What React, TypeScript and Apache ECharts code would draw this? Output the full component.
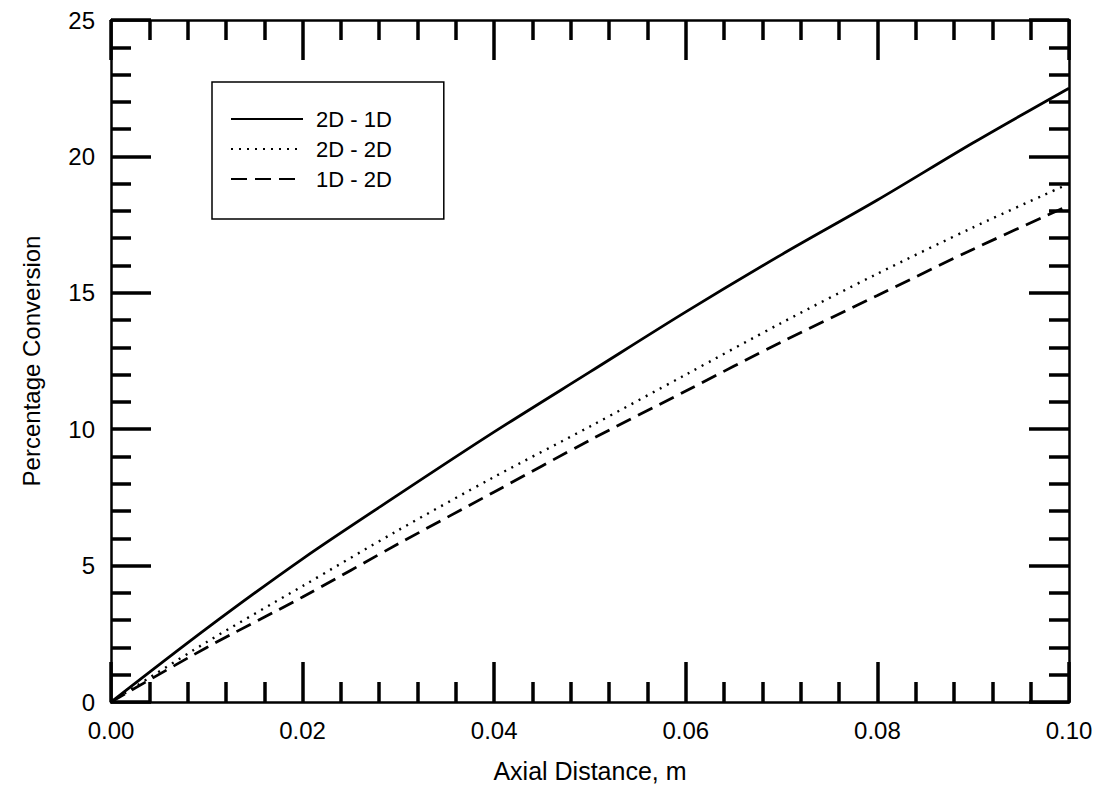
import React, { useEffect, useRef } from "react";
import * as echarts from "echarts";

const xValues = [0, 0.01, 0.02, 0.03, 0.04, 0.05, 0.06, 0.07, 0.08, 0.09, 0.1];
const solid2D1D = [0, 2.7, 5.25, 7.6, 9.9, 12.1, 14.3, 16.4, 18.4, 20.5, 22.5];
const dotted2D2D = [0, 2.2, 4.25, 6.3, 8.25, 10.1, 12.0, 13.9, 15.7, 17.4, 19.0];
const dashed1D2D = [0, 2.0, 3.85, 5.8, 7.7, 9.6, 11.4, 13.2, 14.9, 16.6, 18.2];
const seriesNames = ["2D - 1D", "2D - 2D", "1D - 2D"];

const FONT = "Liberation Sans, Arial, sans-serif";

function pair(ys: number[]) {
  return xValues.map((x, i) => [x, ys[i]]);
}

export default function App() {
  const ref = useRef<HTMLDivElement>(null);
  useEffect(() => {
    if (!ref.current) return;
    const chart = echarts.init(ref.current, undefined, { renderer: "svg" });
    const axisCommon = {
      axisLine: { show: true, onZero: false, lineStyle: { color: "#000", width: 2.5 } },
      axisTick: { show: true, inside: true, length: 40, lineStyle: { color: "#000", width: 3.5 } },
      minorTick: { show: true, splitNumber: 5, length: 20, lineStyle: { color: "#000", width: 3.5 } },
      splitLine: { show: false },
      minorSplitLine: { show: false },
    };
    const xCommon = { type: "value", min: 0, max: 0.1, interval: 0.02, ...axisCommon };
    const yCommon = { type: "value", min: 0, max: 25, interval: 5, ...axisCommon };
    chart.setOption({
      animation: false,
      backgroundColor: "#fff",
      textStyle: { fontFamily: FONT },
      grid: { left: 111, top: 20, right: 36, bottom: 104, containLabel: false },
      legend: {
        orient: "vertical",
        left: 212,
        top: 82,
        padding: [26, 52, 29, 18],
        itemGap: 8,
        itemWidth: 72,
        itemHeight: 20,
        borderColor: "#000",
        borderWidth: 1.5,
        borderRadius: 0,
        itemStyle: { color: "rgba(0,0,0,0)", borderWidth: 0, opacity: 0 },
        textStyle: { fontFamily: FONT, fontSize: 22, color: "#000", padding: [0, 0, 0, 8] },
        data: seriesNames,
      },
      xAxis: [
        {
          ...xCommon,
          position: "bottom",
          name: "Axial Distance, m",
          nameLocation: "middle",
          nameGap: 56,
          nameTextStyle: { fontFamily: FONT, fontSize: 25, color: "#000" },
          axisLabel: {
            show: true,
            margin: 16,
            fontFamily: FONT,
            fontSize: 24,
            color: "#000",
            formatter: (v: number) => v.toFixed(2),
          },
        },
        { ...xCommon, position: "top", axisLabel: { show: false } },
      ],
      yAxis: [
        {
          ...yCommon,
          position: "left",
          name: "Percentage Conversion",
          nameLocation: "middle",
          nameGap: 68,
          nameTextStyle: { fontFamily: FONT, fontSize: 24, color: "#000" },
          axisLabel: { show: true, margin: 16, fontFamily: FONT, fontSize: 24, color: "#000" },
        },
        { ...yCommon, position: "right", axisLabel: { show: false } },
      ],
      series: [
        {
          name: seriesNames[0],
          type: "line",
          data: pair(solid2D1D),
          smooth: 0.3,
          symbol: "none",
          lineStyle: { color: "#000", width: 2.8, type: "solid" },
          itemStyle: { color: "#000" },
        },
        {
          name: seriesNames[1],
          type: "line",
          data: pair(dotted2D2D),
          smooth: 0.3,
          symbol: "none",
          lineStyle: { color: "#000", width: 2.4, type: [2, 6] },
          itemStyle: { color: "#000" },
        },
        {
          name: seriesNames[2],
          type: "line",
          data: pair(dashed1D2D),
          smooth: 0.3,
          symbol: "none",
          lineStyle: { color: "#000", width: 2.8, type: [16, 8] },
          itemStyle: { color: "#000" },
        },
      ],
    });
    return () => chart.dispose();
  }, []);
  return (
    <div
      ref={ref}
      style={{ position: "fixed", left: 0, top: 0, width: 1105, height: 806, background: "#fff" }}
    />
  );
}
